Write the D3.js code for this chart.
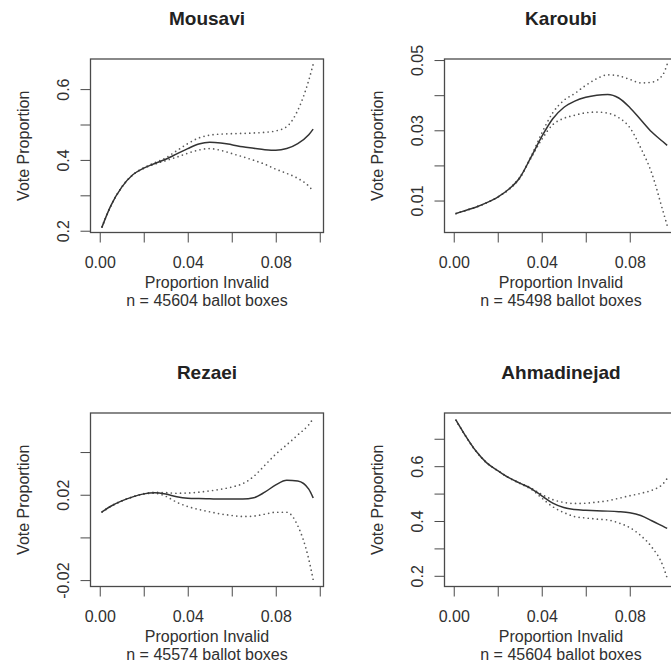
<!DOCTYPE html>
<html>
<head>
<meta charset="utf-8">
<script src="https://cdnjs.cloudflare.com/ajax/libs/d3/7.8.5/d3.min.js"></script>
<style>
    body { margin: 0; background: #fff; }
    svg text { font-family: "Liberation Sans", Arial, sans-serif; fill: #303030; }
</style>
</head>
<body>
<svg id="chart" width="671" height="670"></svg>
<script>
"use strict";

// panel titles and sample sizes
const panelNames = ["Mousavi", "Karoubi", "Rezaei", "Ahmadinejad"];
const ballotBoxes = [45604, 45498, 45574, 45604];

// x positions the curves were read at (proportion of invalid ballots)
const propInvalid = [0.001, 0.005, 0.010, 0.015, 0.020, 0.025, 0.030, 0.035, 0.040, 0.045, 0.050,
    0.055, 0.060, 0.065, 0.070, 0.075, 0.080, 0.085, 0.090, 0.095, 0.097];

const mousaviFit = [0.210, 0.270, 0.323, 0.358, 0.377, 0.390, 0.402, 0.417, 0.432, 0.445, 0.450,
    0.448, 0.443, 0.437, 0.433, 0.429, 0.427, 0.432, 0.446, 0.471, 0.487];
const mousaviUpper = [0.210, 0.270, 0.323, 0.358, 0.378, 0.392, 0.406, 0.426, 0.446, 0.462, 0.470,
    0.473, 0.474, 0.475, 0.476, 0.478, 0.482, 0.494, 0.540, 0.625, 0.670];
const mousaviLower = [0.210, 0.270, 0.323, 0.358, 0.376, 0.388, 0.398, 0.408, 0.419, 0.428, 0.432,
    0.427, 0.418, 0.409, 0.399, 0.388, 0.374, 0.362, 0.348, 0.326, 0.312];

const karoubiFit = [0.0063, 0.0071, 0.0081, 0.0094, 0.0110, 0.0132, 0.0165, 0.0222, 0.0282, 0.0333, 0.0365,
    0.0383, 0.0394, 0.0400, 0.0402, 0.0392, 0.0365, 0.0330, 0.0295, 0.0268, 0.0257];
const karoubiUpper = [0.0063, 0.0071, 0.0081, 0.0094, 0.0110, 0.0133, 0.0167, 0.0224, 0.0292, 0.0350, 0.0385,
    0.0405, 0.0428, 0.0447, 0.0458, 0.0455, 0.0445, 0.0435, 0.0437, 0.0458, 0.0488];
const karoubiLower = [0.0063, 0.0071, 0.0081, 0.0094, 0.0110, 0.0131, 0.0163, 0.0220, 0.0274, 0.0316, 0.0334,
    0.0343, 0.0350, 0.0352, 0.0349, 0.0336, 0.0308, 0.0250, 0.0178, 0.0072, 0.0029];

const rezaeiFit = [0.0119, 0.0146, 0.0171, 0.0190, 0.0204, 0.0209, 0.0203, 0.0191, 0.0184, 0.0182, 0.0181,
    0.0180, 0.0180, 0.0180, 0.0186, 0.0212, 0.0246, 0.0268, 0.0264, 0.0226, 0.0185];
const rezaeiUpper = [0.0119, 0.0146, 0.0171, 0.0190, 0.0205, 0.0211, 0.0210, 0.0207, 0.0208, 0.0212, 0.0218,
    0.0226, 0.0236, 0.0252, 0.0286, 0.0338, 0.0390, 0.0434, 0.0480, 0.0528, 0.0556];
const rezaeiLower = [0.0119, 0.0146, 0.0171, 0.0190, 0.0203, 0.0207, 0.0193, 0.0165, 0.0145, 0.0131, 0.0120,
    0.0110, 0.0103, 0.0098, 0.0100, 0.0109, 0.0118, 0.0118, 0.0055, -0.0102, -0.0198];

const ahmadinejadFit = [0.768, 0.715, 0.656, 0.612, 0.584, 0.558, 0.538, 0.519, 0.492, 0.465, 0.449,
    0.442, 0.439, 0.437, 0.436, 0.434, 0.430, 0.420, 0.401, 0.381, 0.373];
const ahmadinejadUpper = [0.768, 0.715, 0.656, 0.612, 0.584, 0.558, 0.539, 0.521, 0.497, 0.478, 0.468,
    0.464, 0.465, 0.469, 0.474, 0.483, 0.492, 0.501, 0.512, 0.535, 0.555];
const ahmadinejadLower = [0.768, 0.715, 0.656, 0.612, 0.584, 0.558, 0.537, 0.517, 0.484, 0.452, 0.431,
    0.416, 0.411, 0.407, 0.404, 0.393, 0.376, 0.347, 0.305, 0.238, 0.192];

const fits = [mousaviFit, karoubiFit, rezaeiFit, ahmadinejadFit];
const uppers = [mousaviUpper, karoubiUpper, rezaeiUpper, ahmadinejadUpper];
const lowers = [mousaviLower, karoubiLower, rezaeiLower, ahmadinejadLower];

// axes
const xDomain = [-0.0042, 0.1017];
const xTicks = [0, 0.02, 0.04, 0.06, 0.08, 0.10];
const xTickLabels = ["0.00", "", "0.04", "", "0.08", ""];

const yDomains = [[0.195, 0.685], [0.0009, 0.0503], [-0.023, 0.0583], [0.161, 0.794]];
const yTicks = [
    [0.2, 0.3, 0.4, 0.5, 0.6],
    [0.01, 0.02, 0.03, 0.04, 0.05],
    [-0.02, 0, 0.02, 0.04],
    [0.2, 0.3, 0.4, 0.5, 0.6, 0.7]
];
const yTickLabels = [
    ["0.2", "", "0.4", "", "0.6"],
    ["0.01", "", "0.03", "", "0.05"],
    ["-0.02", "", "0.02", ""],
    ["0.2", "", "0.4", "", "0.6", ""]
];

const svg = d3.select("#chart");
const boxW = 233, boxH = 173.5;
const fontSize = 16;

panelNames.forEach(function (name, p) {
    let col = p % 2, row = Math.floor(p / 2);
    let g = svg.append("g")
        .attr("transform", "translate(" + (90.5 + 354 * col) + "," + (59 + 354 * row) + ")");

    let x = d3.scaleLinear().domain(xDomain).range([0, boxW]);
    let y = d3.scaleLinear().domain(yDomains[p]).range([boxH, 0]);

    // x axis
    let xAxis = g.append("g")
        .attr("transform", "translate(0," + boxH + ")")
        .call(d3.axisBottom(x).tickValues(xTicks).tickSize(10).tickPadding(14)
            .tickFormat(function (d, i) { return xTickLabels[i]; }));
    xAxis.select(".domain").remove();
    xAxis.selectAll("line").attr("stroke", "#4a4a4a");
    xAxis.selectAll("text").attr("font-size", fontSize).attr("font-family", null).attr("fill", null);

    // y axis, labels parallel to the axis like base R
    let yAxis = g.append("g")
        .call(d3.axisLeft(y).tickValues(yTicks[p]).tickSize(10)
            .tickFormat(function (d, i) { return yTickLabels[p][i]; }));
    yAxis.select(".domain").remove();
    yAxis.selectAll("line").attr("stroke", "#4a4a4a");
    yAxis.selectAll("text")
        .attr("font-size", fontSize).attr("font-family", null).attr("fill", null)
        .attr("transform", "rotate(-90)")
        .attr("x", 0).attr("y", -22).attr("dy", null)
        .attr("text-anchor", "middle");

    // plot box
    g.append("rect")
        .attr("width", boxW).attr("height", boxH)
        .attr("fill", "none").attr("stroke", "#4a4a4a").attr("stroke-width", 1.3);

    let line = function (vals) {
        return d3.line()
            .x(function (d, i) { return x(propInvalid[i]); })
            .y(function (d) { return y(d); })
            .curve(d3.curveMonotoneX)(vals);
    };

    // dotted confidence bands
    [uppers[p], lowers[p]].forEach(function (vals) {
        g.append("path")
            .attr("d", line(vals))
            .attr("fill", "none")
            .attr("stroke", "#5a5a5a")
            .attr("stroke-width", 1.7)
            .attr("stroke-linecap", "round")
            .attr("stroke-dasharray", "0 4.6");
    });

    // fitted curve
    g.append("path")
        .attr("d", line(fits[p]))
        .attr("fill", "none")
        .attr("stroke", "#333")
        .attr("stroke-width", 1.5);

    // titles and labels
    g.append("text")
        .attr("x", boxW / 2).attr("y", -34)
        .attr("text-anchor", "middle")
        .attr("font-size", 19).attr("font-weight", "bold")
        .style("fill", "#222")
        .text(name);

    g.append("text")
        .attr("x", boxW / 2).attr("y", boxH + 55.5)
        .attr("text-anchor", "middle")
        .attr("font-size", fontSize)
        .text("Proportion Invalid");

    g.append("text")
        .attr("x", boxW / 2).attr("y", boxH + 73.5)
        .attr("text-anchor", "middle")
        .attr("font-size", fontSize)
        .text("n = " + ballotBoxes[p] + " ballot boxes");

    g.append("text")
        .attr("transform", "translate(-62," + (boxH / 2) + ") rotate(-90)")
        .attr("text-anchor", "middle")
        .attr("font-size", fontSize)
        .text("Vote Proportion");
});
</script>
</body>
</html>
